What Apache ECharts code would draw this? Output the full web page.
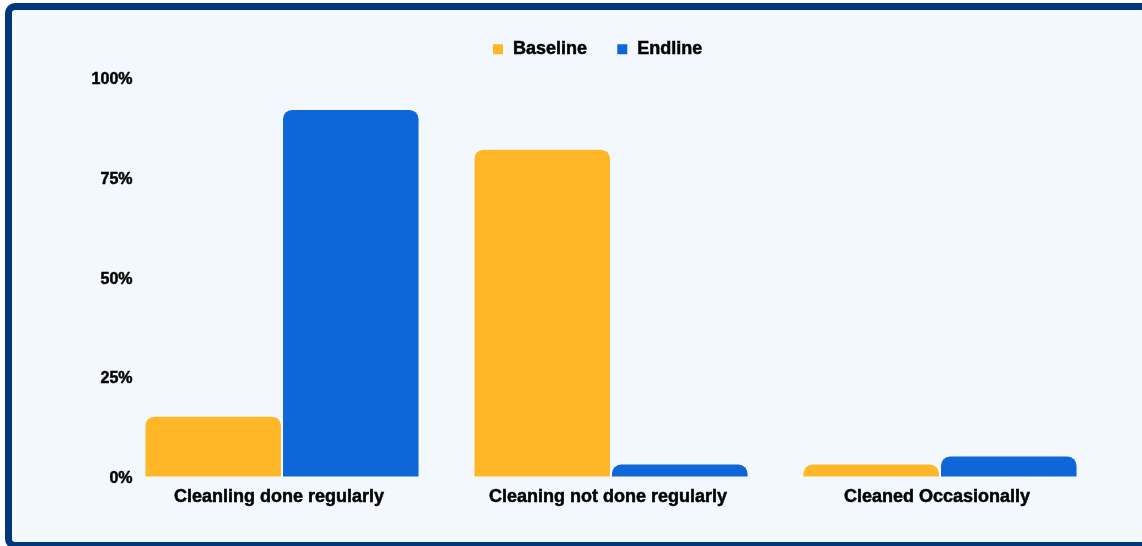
<!DOCTYPE html>
<html>
<head>
<meta charset="utf-8">
<script src="https://cdn.jsdelivr.net/npm/echarts@6/dist/echarts.min.js"></script>
<style>
  html, body { margin: 0; padding: 0; width: 1142px; height: 546px; overflow: hidden; background: #ffffff; }
  #frame {
    position: absolute; left: 5px; top: 3px; width: 1200px; height: 532px;
    border: 7px solid #02377b; border-radius: 10px; background: #f3f8fe;
    box-sizing: content-box;
  }
  #chart { position: absolute; left: 0; top: 0; width: 1142px; height: 546px; }
</style>
</head>
<body>
<div id="frame"></div>
<div id="chart"></div>
<script>
// Share of respondents by cleaning practice, baseline vs endline survey
const categories = ['Cleanling done regularly', 'Cleaning not done regularly', 'Cleaned Occasionally'];
const baseline = [15, 82, 3];
const endline = [92, 3, 5];
const yTicks = { min: 0, max: 100, interval: 25 };

const font = '"Liberation Sans", Arial, sans-serif';
const heavy = { fontFamily: font, fontWeight: 'bold', color: '#000', textBorderColor: '#000', textBorderWidth: 0.5 };
const chart = echarts.init(document.getElementById('chart'), null, { renderer: 'canvas' });

chart.setOption({
  backgroundColor: 'transparent',
  animation: false,
  legend: {
    left: 488, top: 35,
    itemWidth: 10, itemHeight: 10, itemGap: 30,
    icon: 'rect',
    textStyle: Object.assign({}, heavy, { fontSize: 18, padding: [0, 0, 0, 5] }),
    data: ['Baseline', 'Endline']
  },
  grid: { left: 117.5, right: 37.5, top: 78, bottom: 69.5, containLabel: false },
  xAxis: {
    type: 'category',
    data: categories,
    axisLine: { show: false },
    axisTick: { show: false },
    axisLabel: Object.assign({}, heavy, { margin: 12, fontSize: 18, padding: [0, 6, 0, 0] })
  },
  yAxis: {
    type: 'value',
    min: yTicks.min, max: yTicks.max, interval: yTicks.interval,
    splitLine: { show: false },
    axisLine: { show: false },
    axisTick: { show: false },
    axisLabel: {
      margin: -15,
      formatter: v => '{t|' + v + '%}',
      rich: { t: Object.assign({}, heavy, { fontSize: 16, padding: [4, 0, 0, 0] }) }
    }
  },
  series: [
    {
      name: 'Baseline', type: 'bar', data: baseline,
      barCategoryGap: '17%', barGap: '1.5%',
      itemStyle: { color: '#ffb727', borderRadius: [9, 9, 0, 0] }
    },
    {
      name: 'Endline', type: 'bar', data: endline,
      barCategoryGap: '17%', barGap: '1.5%',
      itemStyle: { color: '#0e66d9', borderRadius: [9, 9, 0, 0] }
    }
  ]
});
</script>
</body>
</html>
